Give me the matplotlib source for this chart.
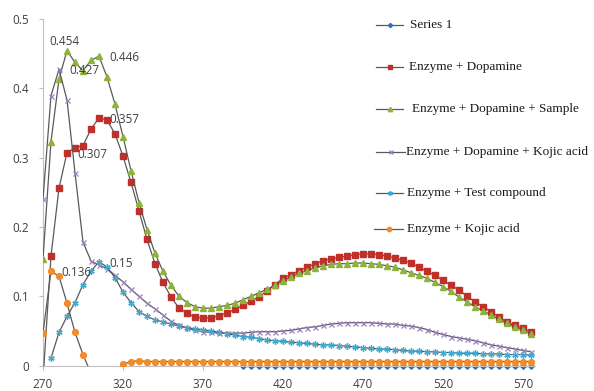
import numpy as np
import matplotlib
matplotlib.use("Agg")
import matplotlib.pyplot as plt
from matplotlib.lines import Line2D

nan = np.nan
wavelength = list(range(270, 580, 5))

series1 = [nan] * 25 + [0.0] * 37

dopamine = [-0.02, 0.158, 0.256, 0.307, 0.314, 0.317, 0.341, 0.357, 0.354, 0.334,
            0.302, 0.264, 0.223, 0.182, 0.147, 0.120, 0.099, 0.083, 0.076, 0.070,
            0.069, 0.069, 0.072, 0.076, 0.081, 0.087, 0.093, 0.099, 0.108, 0.117,
            0.126, 0.131, 0.137, 0.142, 0.147, 0.151, 0.154, 0.156, 0.158, 0.160,
            0.161, 0.161, 0.160, 0.158, 0.155, 0.152, 0.148, 0.142, 0.136, 0.130,
            0.123, 0.116, 0.109, 0.100, 0.092, 0.085, 0.078, 0.070, 0.063, 0.058,
            0.054, 0.049]

sample = [0.154, 0.323, 0.413, 0.454, 0.437, 0.425, 0.440, 0.446, 0.416, 0.377,
          0.330, 0.281, 0.235, 0.196, 0.162, 0.136, 0.116, 0.100, 0.091, 0.085,
          0.083, 0.083, 0.085, 0.087, 0.090, 0.095, 0.100, 0.105, 0.110, 0.116,
          0.122, 0.128, 0.133, 0.137, 0.141, 0.144, 0.146, 0.147, 0.147, 0.148,
          0.148, 0.147, 0.146, 0.144, 0.142, 0.138, 0.134, 0.130, 0.126, 0.120,
          0.114, 0.107, 0.099, 0.092, 0.085, 0.079, 0.073, 0.067, 0.061, 0.056,
          0.051, 0.046]

dop_kojic = [0.240, 0.389, 0.427, 0.383, 0.278, 0.178, 0.151, 0.145, 0.140, 0.130,
             0.121, 0.110, 0.100, 0.090, 0.082, 0.073, 0.064, 0.058, 0.054, 0.051,
             0.049, 0.048, 0.047, 0.047, 0.047, 0.047, 0.048, 0.049, 0.049, 0.049,
             0.050, 0.051, 0.053, 0.055, 0.056, 0.058, 0.060, 0.061, 0.062, 0.062,
             0.062, 0.062, 0.061, 0.060, 0.060, 0.058, 0.057, 0.055, 0.052, 0.048,
             0.045, 0.042, 0.040, 0.038, 0.036, 0.033, 0.030, 0.028, 0.026, 0.024,
             0.022, 0.020]

test_compound = [nan, 0.011, 0.048, 0.071, 0.091, 0.117, 0.136, 0.150, 0.142, 0.127,
                 0.106, 0.091, 0.078, 0.071, 0.066, 0.063, 0.060, 0.057, 0.055, 0.053,
                 0.052, 0.050, 0.048, 0.046, 0.044, 0.042, 0.041, 0.039, 0.037, 0.036,
                 0.035, 0.034, 0.033, 0.032, 0.031, 0.030, 0.030, 0.029, 0.028, 0.027,
                 0.026, 0.025, 0.024, 0.024, 0.023, 0.022, 0.021, 0.021, 0.020, 0.020,
                 0.019, 0.019, 0.018, 0.018, 0.018, 0.017, 0.017, 0.017, 0.016, 0.016,
                 0.016, 0.015]

kojic = [0.047, 0.136, 0.129, 0.090, 0.048, 0.016, -0.011, -0.015, -0.015, -0.010,
         0.002, 0.006, 0.007] + [0.006] * 49

labels = ["Series 1", "Enzyme + Dopamine", "Enzyme + Dopamine + Sample",
          "Enzyme + Dopamine + Kojic acid", "Enzyme + Test compound",
          "Enzyme + Kojic acid"]
data = [series1, dopamine, sample, dop_kojic, test_compound, kojic]

x_ticks = [270, 320, 370, 420, 470, 520, 570]
y_ticks = [0, 0.1, 0.2, 0.3, 0.4, 0.5]
y_ticklabels = ["0", "0.1", "0.2", "0.3", "0.4", "0.5"]

# (series index, wavelength, text, position)
data_labels = [(2, 285, "0.454", "above"), (3, 280, "0.427", "right"),
               (2, 305, "0.446", "right"), (1, 305, "0.357", "right"),
               (1, 285, "0.307", "right"), (4, 305, "0.15", "right"),
               (5, 275, "0.136", "right")]

styles = [
    dict(marker="D", ms=2.8, mfc="#2E6FC0", mec="#2E6FC0"),
    dict(marker="s", ms=4.2, mfc="#C0302B", mec="#C0302B"),
    dict(marker="^", ms=4.2, mfc="#8DB33A", mec="#8DB33A"),
    dict(marker="x", ms=3.6, mfc="#9B7FC0", mec="#9B7FC0", mew=0.9),
    dict(marker=(6, 2, 0), ms=4.5, mfc="#3FA9D0", mec="#3FA9D0", mew=1.0),
    dict(marker="o", ms=4.2, mfc="#F28C28", mec="#F28C28"),
]
line_color = "#595959"

W, H = 594, 391
fig = plt.figure(figsize=(W / 100, H / 100), dpi=100)
ax = fig.add_axes([43 / W, 1 - 365.7 / H, (535 - 43) / W, (365.7 - 18.7) / H])

for i, (vals, st) in enumerate(zip(data, styles)):
    ax.plot(wavelength, vals, color=line_color, lw=0.9, zorder=2 + i,
            clip_on=(i != 0), **st)

ax.set_xlim(270, 577.5)
ax.set_ylim(0, 0.5)
ax.set_xticks(x_ticks)
ax.set_yticks(y_ticks)
ax.set_yticklabels(y_ticklabels)

tick_font = dict(family="Open Sans", size=8.5)
for lab in ax.get_xticklabels() + ax.get_yticklabels():
    lab.set_fontfamily("Open Sans")
    lab.set_fontsize(8.5)
    lab.set_color("#404040")
ax.tick_params(axis="both", direction="out", length=3, width=0.8, color="#bfbfbf")
ax.tick_params(axis="y", pad=7)
ax.tick_params(axis="x", pad=5.5)
for s in ["top", "right"]:
    ax.spines[s].set_visible(False)
for s in ["left", "bottom"]:
    ax.spines[s].set_color("#bfbfbf")
    ax.spines[s].set_linewidth(0.8)

px = 72 / 100
for si, wl, txt, pos in data_labels:
    yv = data[si][wavelength.index(wl)]
    if pos == "above":
        ax.annotate(txt, (wl, yv), xytext=(-3 * px, 9 * px), textcoords="offset points",
                    ha="center", va="center", color="#404040", **tick_font, zorder=20)
    else:
        ax.annotate(txt, (wl, yv), xytext=(10 * px, -1.5 * px), textcoords="offset points",
                    ha="left", va="center", color="#404040", **tick_font, zorder=20)

# Legend (manual, matching layout)
leg_y = [25, 67, 109, 152, 193, 229]
leg_x0 = [376, 376, 376, 376, 376, 374]
leg_x1 = [403, 403, 403, 405, 403, 403]
leg_tx = [410, 409, 412, 406, 407, 407]
for i in range(len(labels)):
    fy = 1 - leg_y[i] / H
    fig.add_artist(Line2D([leg_x0[i] / W, leg_x1[i] / W], [fy, fy], transform=fig.transFigure,
                          color=line_color, lw=0.9))
    st = dict(styles[i])
    st["ms"] = st["ms"] * 0.75
    fig.add_artist(Line2D([(leg_x0[i] + leg_x1[i]) / 2 / W], [fy], transform=fig.transFigure,
                          ls="none", **st))
    fig.text(leg_tx[i] / W, fy, labels[i], ha="left", va="center",
             family="Liberation Serif", size=9.5, color="#1a1a1a")

fig.savefig("out.png", dpi=100)
